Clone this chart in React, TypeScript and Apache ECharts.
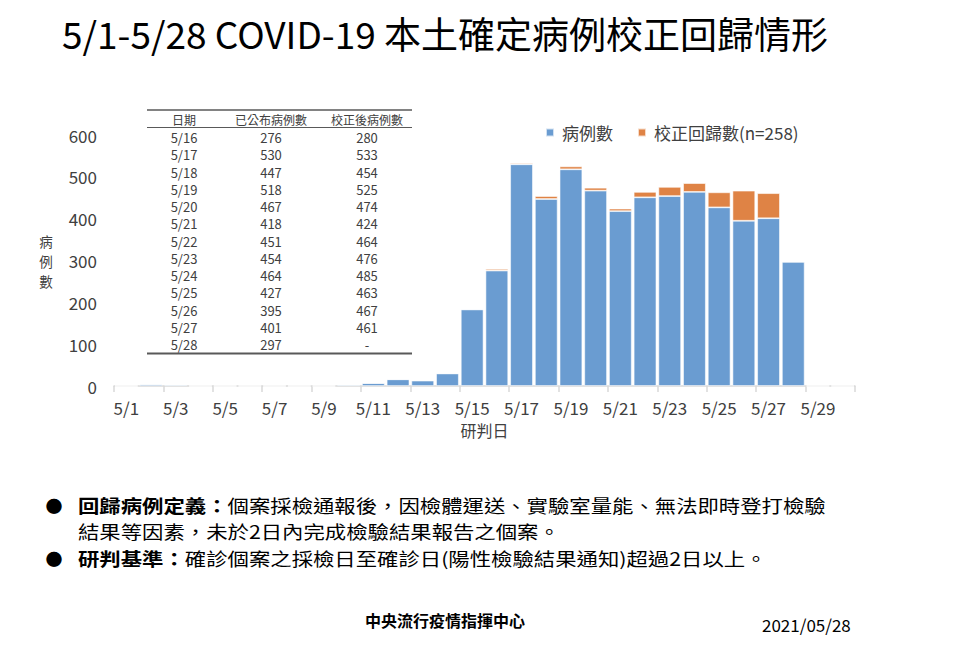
import React, { useEffect, useRef } from "react";
import * as echarts from "echarts";

const dates = [
  "5/1", "5/2", "5/3", "5/4", "5/5", "5/6", "5/7", "5/8", "5/9", "5/10",
  "5/11", "5/12", "5/13", "5/14", "5/15", "5/16", "5/17", "5/18", "5/19", "5/20",
  "5/21", "5/22", "5/23", "5/24", "5/25", "5/26", "5/27", "5/28", "5/29", "5/30",
];
const cases = [
  0, 4, 3, 0, 0, 0, 0, 0, 0, 3,
  7, 16, 13, 30, 183, 276, 530, 447, 518, 467,
  418, 451, 454, 464, 427, 395, 401, 297, 0, 0,
];
const regression = [
  0, 0, 0, 0, 0, 0, 0, 0, 0, 0,
  0, 0, 0, 0, 0, 4, 3, 7, 7, 7,
  6, 13, 22, 21, 36, 72, 60, 0, 0, 0,
];

const tableHeader = ["日期", "已公布病例數", "校正後病例數"];
const tableDates = ["5/16", "5/17", "5/18", "5/19", "5/20", "5/21", "5/22", "5/23", "5/24", "5/25", "5/26", "5/27", "5/28"];
const tablePublished = ["276", "530", "447", "518", "467", "418", "451", "454", "464", "427", "395", "401", "297"];
const tableCorrected = ["280", "533", "454", "525", "474", "424", "464", "476", "485", "463", "467", "461", "-"];

const title = "5/1-5/28 COVID-19 本土確定病例校正回歸情形";
const legendNames = ["病例數", "校正回歸數(n=258)"];
const yNameChars = ["病", "例", "數"];
const xName = "研判日";
const note1a = "回歸病例定義：";
const note1b = "個案採檢通報後，因檢體運送、實驗室量能、無法即時登打檢驗";
const note1c = "結果等因素，未於2日內完成檢驗結果報告之個案。";
const note2a = "研判基準：";
const note2b = "確診個案之採檢日至確診日(陽性檢驗結果通知)超過2日以上。";
const footer = "中央流行疫情指揮中心";
const footerDate = "2021/05/28";

const FONT = '"Noto Sans CJK TC", "Noto Sans", sans-serif';
const BLUE = "#6A9CD1";
const ORANGE = "#DF8345";
const GRAY = "#404040";

function txt(x: number, y: number, text: string, opts: any = {}) {
  const align = opts.align || "left";
  const fontSize = opts.fontSize || 13;
  return {
    type: "text",
    x,
    y,
    scaleX: opts.scaleX || 1,
    silent: true,
    style: {
      text,
      fill: opts.fill || GRAY,
      fontSize,
      fontWeight: opts.fontWeight || "normal",
      fontFamily: FONT,
      lineHeight: opts.lineHeight || Math.round(fontSize * 1.1),
      align,
      textAlign: align,
      verticalAlign: "middle",
      textVerticalAlign: "middle",
      rich: opts.rich,
    },
  };
}

export default function App() {
  const ref = useRef<HTMLDivElement>(null);

  useEffect(() => {
    if (!ref.current) return;
    const chart = echarts.init(ref.current, null, { renderer: "svg" });

    const graphics: any[] = [];
    graphics.push(txt(62, 33, title, { fontSize: 37, fontWeight: "normal", fill: "#000" }));

    // table
    const colX = [184, 271, 367];
    const lineStyle = { stroke: "#595959", lineWidth: 1.2 };
    graphics.push({ type: "line", silent: true, shape: { x1: 147, y1: 110, x2: 412, y2: 110 }, style: { ...lineStyle, lineWidth: 1.5 } });
    graphics.push({ type: "line", silent: true, shape: { x1: 147, y1: 127.5, x2: 412, y2: 127.5 }, style: lineStyle });
    graphics.push({ type: "line", silent: true, shape: { x1: 147, y1: 353.5, x2: 412, y2: 353.5 }, style: { ...lineStyle, lineWidth: 1.8 } });
    tableHeader.forEach((h, i) => graphics.push(txt(colX[i], 119, h, { align: "center", fontSize: 12 })));
    tableDates.forEach((d, r) => {
      const y = 137.5 + r * 17.25;
      graphics.push(txt(colX[0], y, d, { align: "center", fontSize: 13 }));
      graphics.push(txt(colX[1], y, tablePublished[r], { align: "center", fontSize: 13 }));
      graphics.push(txt(colX[2], y, tableCorrected[r], { align: "center", fontSize: 13 }));
    });

    yNameChars.forEach((c, i) => graphics.push(txt(46, 241.4 + i * 19.6, c, { align: "center", fontSize: 13.5, lineHeight: 14 })));

    // notes
    const NF = 18;
    const SX = 1.187;
    const rich = { b: { fontWeight: "bold", fontSize: NF, fontFamily: FONT, fill: "#000", lineHeight: 19 } };
    graphics.push(txt(54, 505, "●", { align: "center", fontSize: 17, fill: "#000" }));
    graphics.push(txt(78, 505, `{b|${note1a}}${note1b}`, { fontSize: NF, fill: "#000", rich, lineHeight: 19, scaleX: SX }));
    graphics.push(txt(78, 531.5, note1c, { fontSize: NF, fill: "#000", lineHeight: 19, scaleX: SX }));
    graphics.push(txt(54, 558.5, "●", { align: "center", fontSize: 17, fill: "#000" }));
    graphics.push(txt(78, 558.5, `{b|${note2a}}${note2b}`, { fontSize: NF, fill: "#000", rich, lineHeight: 19, scaleX: SX }));
    graphics.push(txt(445, 620, footer, { align: "center", fontSize: 16, fontWeight: "bold", fill: "#000" }));
    graphics.push(txt(762, 624, footerDate, { fontSize: 17, fill: "#000" }));

    chart.setOption({
      animation: false,
      backgroundColor: "#fff",
      textStyle: { fontFamily: FONT },
      grid: { left: 114, right: 105, top: 135, bottom: 259, containLabel: false },
      legend: {
        data: legendNames,
        left: 540,
        top: 119,
        icon: "rect",
        itemWidth: 8,
        itemHeight: 8,
        itemGap: 24,
        textStyle: { fontSize: 17, color: GRAY, fontFamily: FONT, padding: [0, 0, 0, 3] },
      },
      xAxis: {
        type: "category",
        data: dates,
        boundaryGap: true,
        name: xName,
        nameLocation: "middle",
        nameGap: 36,
        nameTextStyle: { fontSize: 16, color: GRAY, fontFamily: FONT },
        axisLine: { lineStyle: { color: "#d9d9d9", width: 1.5 } },
        axisTick: { show: true, interval: 1, alignWithLabel: false, length: 6, lineStyle: { color: "#d9d9d9", width: 1.5 } },
        axisLabel: { interval: 1, fontSize: 17, color: GRAY, margin: 13, fontFamily: FONT },
      },
      yAxis: {
        type: "value",
        min: 0,
        max: 600,
        interval: 100,
        axisLine: { show: false },
        axisTick: { show: false },
        splitLine: { show: false },
        axisLabel: { fontSize: 17, color: GRAY, margin: 17, fontFamily: FONT },
      },
      series: [
        {
          name: legendNames[0],
          type: "bar",
          stack: "total",
          data: cases,
          barCategoryGap: "8%",
          itemStyle: { color: BLUE, borderColor: "rgba(255,255,255,0.7)", borderWidth: 0.8 },
        },
        {
          name: legendNames[1],
          type: "bar",
          stack: "total",
          data: regression,
          barCategoryGap: "8%",
          itemStyle: { color: ORANGE, borderColor: "rgba(255,255,255,0.7)", borderWidth: 0.8 },
        },
      ],
      graphic: graphics,
    });

    return () => chart.dispose();
  }, []);

  return <div ref={ref} style={{ position: "fixed", left: 0, top: 0, width: 960, height: 645 }} />;
}
